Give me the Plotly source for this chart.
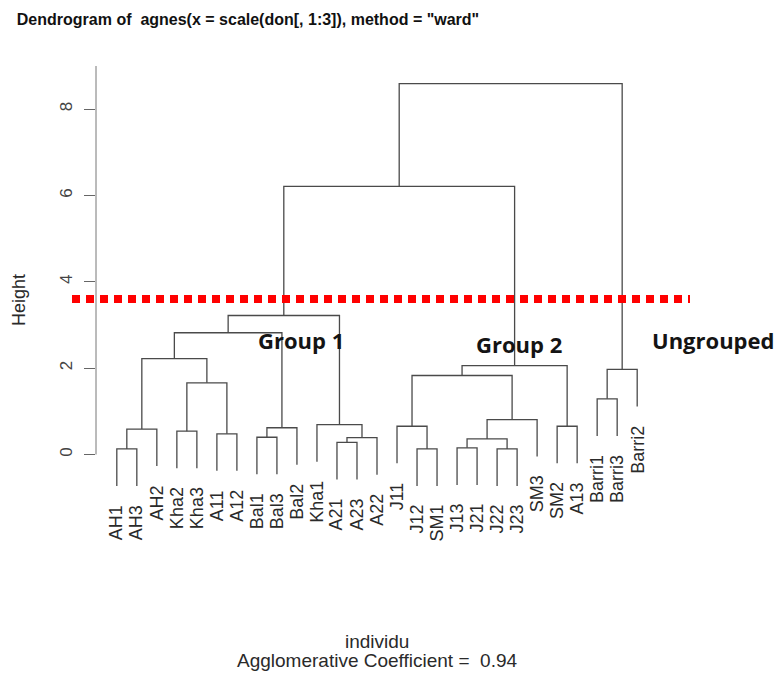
import plotly.graph_objects as go

# ---------------- data ----------------
leaf_labels = ["AH1", "AH3", "AH2", "Kha2", "Kha3", "A11", "A12", "Bal1", "Bal3", "Bal2",
               "Kha1", "A21", "A23", "A22", "J11", "J12", "SM1", "J13", "J21", "J22",
               "J23", "SM3", "SM2", "A13", "Barri1", "Barri3", "Barri2"]

# hclust-style merge table: negative = leaf (1-based position in leaf order), positive = earlier merge
merge_left = [-1, 1, -4, -6, 3, 2, -8, 7, 6, -12, 10, -11, 9,
              -16, -15, -18, -20, 16, 18, 15, -23, 20, -25, 23, 13, 25]
merge_right = [-2, -3, -5, -7, 4, 5, -9, -10, 8, -13, -14, 11, 12,
               -17, 14, -19, -21, 17, -22, 19, -24, 21, -26, -27, 22, 24]
merge_height = [0.13, 0.59, 0.54, 0.48, 1.66, 2.22, 0.40, 0.62, 2.82, 0.28, 0.39, 0.69, 3.22,
                0.13, 0.655, 0.155, 0.13, 0.36, 0.81, 1.83, 0.655, 2.06, 1.29, 1.97, 6.21, 8.59]

cut_height = 3.6
y_tick_vals = [0, 2, 4, 6, 8]
agglomerative_coef = 0.94
group_labels = ["Group 1", "Group 2", "Ungrouped"]

# ---------------- dendrogram geometry ----------------
hang = 0.1 * max(merge_height)
node_x = {}
seg_x, seg_y = [], []
leaf_end = [0.0] * len(leaf_labels)

for k, (a, b, h) in enumerate(zip(merge_left, merge_right, merge_height), start=1):
    pts = []
    for c in (a, b):
        if c < 0:
            i = -c
            leaf_end[i - 1] = h - hang
            pts.append((float(i), h - hang))
        else:
            pts.append((node_x[c], merge_height[c - 1]))
    (xl, yl), (xr, yr) = pts
    node_x[k] = (xl + xr) / 2.0
    seg_x += [xl, xl, xr, xr, None]
    seg_y += [yl, h, h, yr, None]

n = len(leaf_labels)
x_range = [1 - 0.04 * (n - 1), n + 0.04 * (n - 1)]
y_range = [-3, 9]

W, H = 779, 679
ML, MR, MT, MB = 96, 121, 66, 95
PW, PH = W - ML - MR, H - MT - MB


def px_x(p):
    return (p - ML) / PW


def px_y(p):
    return (H - MB - p) / PH


FONT = "Liberation Sans, Arial, sans-serif"
TXT = "#2a2a2a"

fig = go.Figure()
fig.add_trace(go.Scatter(x=seg_x, y=seg_y, mode="lines",
                         line=dict(color="#4a4a4a", width=1.3),
                         hoverinfo="skip", showlegend=False))

annotations = []
for i, lab in enumerate(leaf_labels):
    annotations.append(dict(x=i + 1, y=leaf_end[i], xref="x", yref="y", text=lab,
                            showarrow=False, textangle=-90, xanchor="center", yanchor="top",
                            yshift=-17, font=dict(family=FONT, size=18, color=TXT)))

annotations.append(dict(x=px_x(19), y=px_y(300), xref="paper", yref="paper", text="Height",
                        showarrow=False, textangle=-90, xanchor="center", yanchor="middle",
                        font=dict(family=FONT, size=18, color=TXT)))
annotations.append(dict(x=px_x(377), y=px_y(641), xref="paper", yref="paper", text="individu",
                        showarrow=False, xanchor="center", yanchor="middle",
                        font=dict(family=FONT, size=19, color=TXT)))
annotations.append(dict(x=px_x(377), y=px_y(660), xref="paper", yref="paper",
                        text="Agglomerative Coefficient =  %.2f" % agglomerative_coef,
                        showarrow=False, xanchor="center", yanchor="middle",
                        font=dict(family=FONT, size=19, color=TXT)))

gpos = [(301, 340), (519, 344), (713, 340)]
for lab, (gx, gy) in zip(group_labels, gpos):
    annotations.append(dict(x=px_x(gx), y=px_y(gy), xref="paper", yref="paper", text="<b>%s</b>" % lab,
                            showarrow=False, xanchor="center", yanchor="middle",
                            font=dict(family="Open Sans, Noto Sans, sans-serif", size=22, color="#141414")))

shapes = [
    dict(type="line", xref="paper", yref="y", x0=0, x1=0, y0=0, y1=y_range[1],
         line=dict(color="#777777", width=1)),
    dict(type="line", xref="paper", yref="y", x0=px_x(72), x1=px_x(690), y0=cut_height, y1=cut_height,
         line=dict(color="#ff0000", width=8, dash="8px,6px")),
]

fig.update_layout(
    width=W, height=H,
    margin=dict(l=ML, r=MR, t=MT, b=MB, pad=0),
    paper_bgcolor="white", plot_bgcolor="white",
    title=dict(text='<b>Dendrogram of  agnes(x = scale(don[, 1:3]), method = "ward"</b>',
               x=248 / W, xref="container", xanchor="center",
               y=1 - 19 / H, yref="container", yanchor="middle",
               font=dict(family="Liberation Sans, Arial, sans-serif", size=16, color="#111111")),
    xaxis=dict(range=x_range, visible=False, showgrid=False, zeroline=False, fixedrange=True),
    yaxis=dict(range=y_range, showgrid=False, zeroline=False, showline=False,
               tickvals=y_tick_vals, ticktext=[str(v) for v in y_tick_vals],
               ticks="outside", ticklen=11, tickwidth=1, tickcolor="#666666",
               tickangle=-90, ticklabelstandoff=5,
               tickfont=dict(family=FONT, size=17, color="#444444")),
    annotations=annotations,
    shapes=shapes,
    showlegend=False,
)

fig.write_html("out.html", config={"displayModeBar": False},
               post_script="document.body.style.margin='0px';document.body.style.overflow='hidden';")
